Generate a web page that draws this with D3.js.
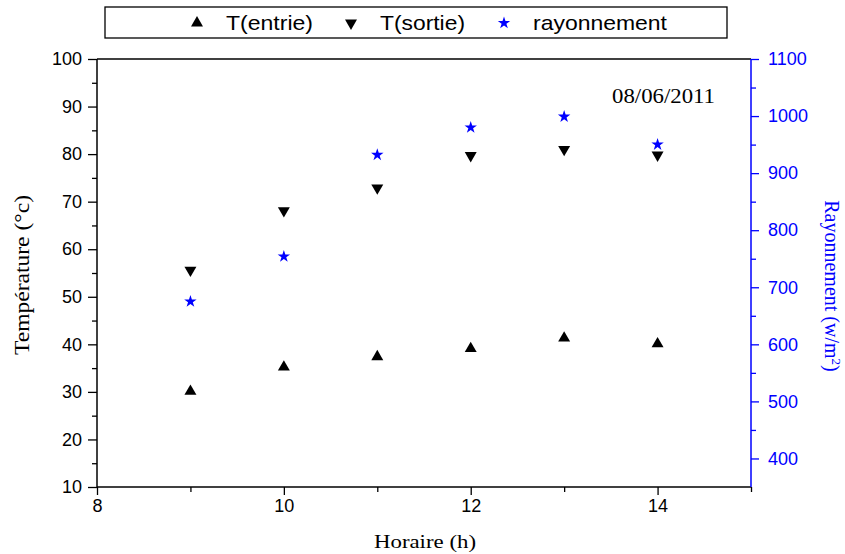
<!DOCTYPE html>
<html>
<head>
<meta charset="utf-8">
<script src="https://cdn.jsdelivr.net/npm/d3@7"></script>
<style>
  html, body { margin: 0; padding: 0; background: #fff; }
  svg { display: block; }
</style>
</head>
<body>
<svg id="chart" width="845" height="554"></svg>
<script>
// Hourly measurements, 08/06/2011
const hours = [9, 10, 11, 12, 13, 14];
const tEntrie = [30.1, 35.2, 37.4, 39.1, 41.3, 40.1];
const tSortie = [55.6, 68.1, 72.9, 79.7, 81.0, 79.8];
const rayonnement = [675, 754, 932, 980, 999, 950];

const xTicks = [8, 10, 12, 14];
const xMinorTicks = [9, 11, 13, 15];
const yTicks = [10, 20, 30, 40, 50, 60, 70, 80, 90, 100];
const yMinorTicks = [15, 25, 35, 45, 55, 65, 75, 85, 95];
const y2Ticks = [400, 500, 600, 700, 800, 900, 1000, 1100];
const y2MinorTicks = [450, 550, 650, 750, 850, 950, 1050];

const legendItems = [
  { label: "T(entrie)", kind: "up", color: "#000", width: 87 },
  { label: "T(sortie)", kind: "down", color: "#000", width: 85 },
  { label: "rayonnement", kind: "star", color: "#0000ff", width: 134 }
];

const margin = { left: 97, right: 94, top: 59, bottom: 67 };
const W = 845, H = 554;
const innerW = W - margin.left - margin.right;
const innerH = H - margin.top - margin.bottom;

const svg = d3.select("#chart");
const g = svg.append("g").attr("transform", `translate(${margin.left},${margin.top})`);

const x = d3.scaleLinear().domain([8, 15]).range([0, innerW]);
const y = d3.scaleLinear().domain([10, 100]).range([innerH, 0]);
const y2 = d3.scaleLinear().domain([350, 1100]).range([innerH, 0]);

const tickFont = "'Liberation Sans', Arial, sans-serif";
const serif = "'Liberation Serif', 'Times New Roman', serif";
const blue = "#0000ff";

function styleAxis(sel, color) {
  sel.select(".domain").remove();
  sel.selectAll(".tick line").attr("stroke", color).attr("stroke-width", 1.3);
  sel.selectAll(".tick text").attr("fill", color)
    .style("font-family", tickFont).style("font-size", "18px");
}

// Minor ticks (unlabelled)
g.append("g").attr("transform", `translate(0,${innerH})`)
  .call(d3.axisBottom(x).tickValues(xMinorTicks).tickSize(5).tickFormat(""))
  .call(s => styleAxis(s, "#000"));
g.append("g")
  .call(d3.axisLeft(y).tickValues(yMinorTicks).tickSize(5).tickFormat(""))
  .call(s => styleAxis(s, "#000"));
g.append("g").attr("transform", `translate(${innerW},0)`)
  .call(d3.axisRight(y2).tickValues(y2MinorTicks).tickSize(5).tickFormat(""))
  .call(s => styleAxis(s, blue));

// Major ticks
g.append("g").attr("transform", `translate(0,${innerH})`)
  .call(d3.axisBottom(x).tickValues(xTicks).tickSize(8).tickPadding(4).tickFormat(d3.format("d")))
  .call(s => styleAxis(s, "#000"));
g.append("g")
  .call(d3.axisLeft(y).tickValues(yTicks).tickSize(9).tickPadding(6).tickFormat(d3.format("d")))
  .call(s => styleAxis(s, "#000"));
g.append("g").attr("transform", `translate(${innerW},0)`)
  .call(d3.axisRight(y2).tickValues(y2Ticks).tickSize(8).tickPadding(9).tickFormat(d3.format("d")))
  .call(s => styleAxis(s, blue));

// Frame: black left/bottom/top, blue right
g.append("line").attr("x1", 0).attr("x2", innerW).attr("y1", 0).attr("y2", 0)
  .attr("stroke", "#000").attr("stroke-width", 1.5);
g.append("line").attr("x1", 0).attr("x2", innerW).attr("y1", innerH).attr("y2", innerH)
  .attr("stroke", "#000").attr("stroke-width", 1.5);
g.append("line").attr("x1", 0).attr("x2", 0).attr("y1", 0).attr("y2", innerH)
  .attr("stroke", "#000").attr("stroke-width", 1.5);
g.append("line").attr("x1", innerW).attr("x2", innerW).attr("y1", 0).attr("y2", innerH)
  .attr("stroke", blue).attr("stroke-width", 1.5);

// Markers
const symUp = d3.symbol().type(d3.symbolTriangle).size(62);
const symStar = d3.symbol().type(d3.symbolStar).size(48);

function markerPath(kind) {
  return kind === "star" ? symStar() : symUp();
}
function markerTransform(kind, cx, cy) {
  if (kind === "down") return `translate(${cx},${cy}) rotate(180)`;
  return `translate(${cx},${cy})`;
}

g.append("g").selectAll("path").data(hours.map((h, i) => [h, tEntrie[i]]))
  .join("path").attr("d", markerPath("up"))
  .attr("transform", d => markerTransform("up", x(d[0]), y(d[1])))
  .attr("fill", "#000");

g.append("g").selectAll("path").data(hours.map((h, i) => [h, tSortie[i]]))
  .join("path").attr("d", markerPath("down"))
  .attr("transform", d => markerTransform("down", x(d[0]), y(d[1])))
  .attr("fill", "#000");

g.append("g").selectAll("path").data(hours.map((h, i) => [h, rayonnement[i]]))
  .join("path").attr("d", markerPath("star"))
  .attr("transform", d => markerTransform("star", x(d[0]), y2(d[1])))
  .attr("fill", blue);

// Date annotation
g.append("text").attr("x", 515).attr("y", 44)
  .attr("textLength", 103).attr("lengthAdjust", "spacingAndGlyphs")
  .style("font-family", serif).style("font-size", "20px")
  .text("08/06/2011");

// Axis titles
svg.append("text").attr("x", 374).attr("y", 548)
  .attr("textLength", 102).attr("lengthAdjust", "spacingAndGlyphs")
  .style("font-family", serif).style("font-size", "19px")
  .text("Horaire (h)");

svg.append("text")
  .attr("transform", `translate(29,355) rotate(-90)`)
  .attr("textLength", 160).attr("lengthAdjust", "spacingAndGlyphs")
  .style("font-family", serif).style("font-size", "20px")
  .text("Température (°c)");

const rl = svg.append("text")
  .attr("transform", `translate(825,${margin.top + innerH / 2 + 13}) rotate(90)`)
  .attr("text-anchor", "middle")
  .attr("fill", blue)
  .style("font-family", serif).style("font-size", "20px");
rl.append("tspan").text("Rayonnement (w/m");
rl.append("tspan").attr("baseline-shift", "super").style("font-size", "13px").text("2");
rl.append("tspan").text(")");

// Legend
const legend = svg.append("g");
legend.append("rect").attr("x", 105).attr("y", 7).attr("width", 622).attr("height", 31)
  .attr("fill", "#fff").attr("stroke", "#000").attr("stroke-width", 1.3);
const legendX = [197, 351, 504];
legendItems.forEach((item, i) => {
  legend.append("path").attr("d", markerPath(item.kind))
    .attr("transform", markerTransform(item.kind, legendX[i], 23))
    .attr("fill", item.color);
  legend.append("text").attr("x", legendX[i] + 29).attr("y", 30)
    .attr("textLength", item.width).attr("lengthAdjust", "spacingAndGlyphs")
    .style("font-family", tickFont).style("font-size", "21px")
    .text(item.label);
});
</script>
</body>
</html>
